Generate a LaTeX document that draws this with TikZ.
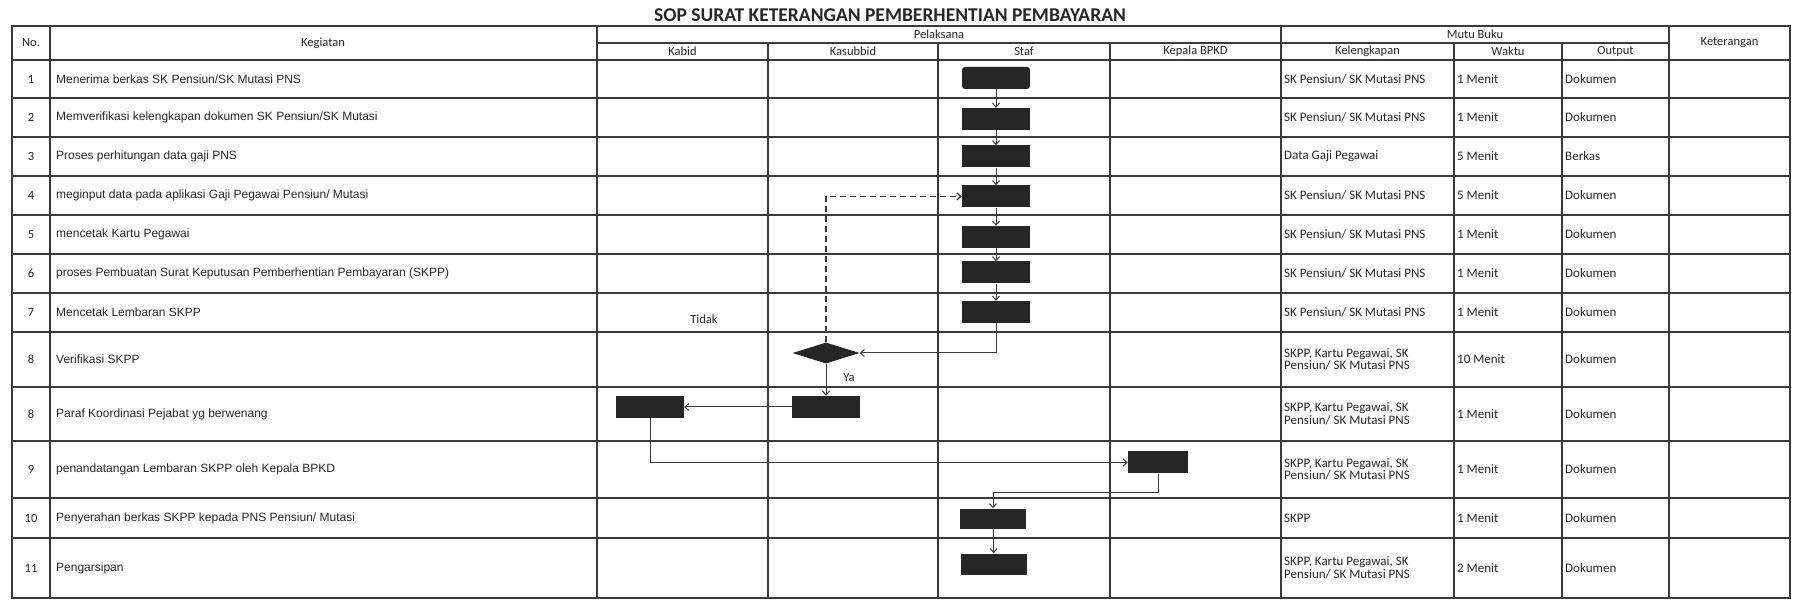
\documentclass[tikz,border=0pt]{standalone}
\usepackage{fontspec}
\setmainfont{Carlito}
\newfontfamily\arialfont{Liberation Sans}
\usetikzlibrary{shapes.geometric,arrows.meta}
\definecolor{ink}{HTML}{262626}
\definecolor{rulegray}{HTML}{3A3A3A}
\begin{document}
\begin{tikzpicture}[x=1pt,y=-1pt,
    tablerule/.style={draw=rulegray,line width=1.1pt,line cap=rect},
    actbox/.style={rectangle,fill=ink,minimum width=68pt,minimum height=22pt,inner sep=0pt},
    startbox/.style={actbox,rounded corners=3pt},
    checkbox/.style={diamond,fill=ink,minimum width=67pt,minimum height=21pt,inner sep=0pt},
    headtext/.style={font=\fontsize{12.5}{12.5}\selectfont,text=ink,inner sep=0pt},
    kegtext/.style={anchor=west,font=\arialfont\fontsize{12}{12}\selectfont,text=ink,inner sep=0pt},
    mututext/.style={anchor=west,align=left,font=\fontsize{13}{12.5}\selectfont,text=ink,inner sep=0pt},
    flow/.style={draw=rulegray,line width=1pt,-{Straight Barb[length=4pt,width=7pt]}}]
      \useasboundingbox (0,0) rectangle (1800,601);
      \draw[tablerule] (12,26) -- (1790,26) (597,43) -- (1669,43) (12,60) -- (1790,60)
        (12,98) -- (1790,98) (12,137) -- (1790,137) (12,176) -- (1790,176)
        (12,215) -- (1790,215) (12,254) -- (1790,254) (12,293) -- (1790,293)
        (12,332) -- (1790,332) (12,387) -- (1790,387) (12,441) -- (1790,441)
        (12,498) -- (1790,498) (12,538) -- (1790,538) (12,598) -- (1790,598);
      \draw[tablerule] (12,26) -- (12,598) (50,26) -- (50,598) (597,26) -- (597,598)
        (768,43) -- (768,598) (938,43) -- (938,598) (1110,43) -- (1110,598)
        (1281,26) -- (1281,598) (1454,43) -- (1454,598) (1562,43) -- (1562,598)
        (1669,26) -- (1669,598) (1790,26) -- (1790,598);
      \path
        (890,15) node[font=\bfseries\fontsize{19.5}{19.5}\selectfont,text=ink] (title) {SOP SURAT KETERANGAN PEMBERHENTIAN PEMBAYARAN}
        (31,43) node[headtext] (hno) {No.}
        (323,43) node[headtext] (hkeg) {Kegiatan}
        (939,34.5) node[headtext] (hpel) {Pelaksana}
        (682.5,51.5) node[headtext] (hkabid) {Kabid}
        (853,51.5) node[headtext] (hkasub) {Kasubbid}
        (1024,51.5) node[headtext] (hstaf) {Staf}
        (1195.5,51.5) node[headtext] (hkepala) {Kepala BPKD}
        (1475,34.5) node[headtext] (hmutu) {Mutu Buku}
        (1367.5,51.5) node[headtext] (hkel) {Kelengkapan}
        (1508,51.5) node[headtext] (hwaktu) {Waktu}
        (1615.5,51.5) node[headtext] (hout) {Output}
        (1729.5,43) node[headtext] (hket) {Keterangan};
      \path
        (31,79) node[headtext] (n1) {1}
        (31,117.5) node[headtext] (n2) {2}
        (31,156.5) node[headtext] (n3) {3}
        (31,195.5) node[headtext] (n4) {4}
        (31,234.5) node[headtext] (n5) {5}
        (31,273.5) node[headtext] (n6) {6}
        (31,312.5) node[headtext] (n7) {7}
        (31,359.5) node[headtext] (n8) {8}
        (31,414) node[headtext] (n8b) {8}
        (31,469.5) node[headtext] (n9) {9}
        (31,518) node[headtext] (n10) {10}
        (31,568) node[headtext] (n11) {11};
      \path
        (56,79) node[kegtext] (a1) {Menerima berkas SK Pensiun/SK Mutasi PNS}
        (56,117.5) node[kegtext] (a2) {Memverifikasi kelengkapan dokumen SK Pensiun/SK Mutasi}
        (56,156.5) node[kegtext] (a3) {Proses perhitungan data gaji PNS}
        (56,195.5) node[kegtext] (a4) {meginput data pada aplikasi Gaji Pegawai Pensiun/ Mutasi}
        (56,234.5) node[kegtext] (a5) {mencetak Kartu Pegawai}
        (56,273.5) node[kegtext] (a6) {proses Pembuatan Surat Keputusan Pemberhentian Pembayaran (SKPP)}
        (56,312.5) node[kegtext] (a7) {Mencetak Lembaran SKPP}
        (56,359.5) node[kegtext] (a8) {Verifikasi SKPP}
        (56,414) node[kegtext] (a8b) {Paraf Koordinasi Pejabat yg berwenang}
        (56,469.5) node[kegtext] (a9) {penandatangan Lembaran SKPP oleh Kepala BPKD}
        (56,518) node[kegtext] (a10) {Penyerahan berkas SKPP kepada PNS Pensiun/ Mutasi}
        (56,568) node[kegtext] (a11) {Pengarsipan};
      \path
        (1284,79) node[mututext] (l1) {SK Pensiun/ SK Mutasi PNS}
        (1284,117.5) node[mututext] (l2) {SK Pensiun/ SK Mutasi PNS}
        (1284,156.5) node[mututext] (l3) {Data Gaji Pegawai}
        (1284,195.5) node[mututext] (l4) {SK Pensiun/ SK Mutasi PNS}
        (1284,234.5) node[mututext] (l5) {SK Pensiun/ SK Mutasi PNS}
        (1284,273.5) node[mututext] (l6) {SK Pensiun/ SK Mutasi PNS}
        (1284,312.5) node[mututext] (l7) {SK Pensiun/ SK Mutasi PNS}
        (1284,359.5) node[mututext] (l8) {SKPP, Kartu Pegawai, SK\\Pensiun/ SK Mutasi PNS}
        (1284,414) node[mututext] (l8b) {SKPP, Kartu Pegawai, SK\\Pensiun/ SK Mutasi PNS}
        (1284,469.5) node[mututext] (l9) {SKPP, Kartu Pegawai, SK\\Pensiun/ SK Mutasi PNS}
        (1284,518) node[mututext] (l10) {SKPP}
        (1284,568) node[mututext] (l11) {SKPP, Kartu Pegawai, SK\\Pensiun/ SK Mutasi PNS};
      \path
        (1457,79) node[mututext] (w1) {1 Menit}
        (1457,117.5) node[mututext] (w2) {1 Menit}
        (1457,156.5) node[mututext] (w3) {5 Menit}
        (1457,195.5) node[mututext] (w4) {5 Menit}
        (1457,234.5) node[mututext] (w5) {1 Menit}
        (1457,273.5) node[mututext] (w6) {1 Menit}
        (1457,312.5) node[mututext] (w7) {1 Menit}
        (1457,359.5) node[mututext] (w8) {10 Menit}
        (1457,414) node[mututext] (w8b) {1 Menit}
        (1457,469.5) node[mututext] (w9) {1 Menit}
        (1457,518) node[mututext] (w10) {1 Menit}
        (1457,568) node[mututext] (w11) {2 Menit};
      \path
        (1565,79) node[mututext] (o1) {Dokumen}
        (1565,117.5) node[mututext] (o2) {Dokumen}
        (1565,156.5) node[mututext] (o3) {Berkas}
        (1565,195.5) node[mututext] (o4) {Dokumen}
        (1565,234.5) node[mututext] (o5) {Dokumen}
        (1565,273.5) node[mututext] (o6) {Dokumen}
        (1565,312.5) node[mututext] (o7) {Dokumen}
        (1565,359.5) node[mututext] (o8) {Dokumen}
        (1565,414) node[mututext] (o8b) {Dokumen}
        (1565,469.5) node[mututext] (o9) {Dokumen}
        (1565,518) node[mututext] (o10) {Dokumen}
        (1565,568) node[mututext] (o11) {Dokumen};
      \path
        (996,78) node[startbox] (s1) {}
        (996,119) node[actbox] (s2) {}
        (996,156.5) node[actbox] (s3) {}
        (996,196.5) node[actbox] (s4) {}
        (996,237) node[actbox] (s5) {}
        (996,272.5) node[actbox] (s6) {}
        (996,312) node[actbox] (s7) {}
        (826,353) node[checkbox] (v) {}
        (826,407) node[actbox] (ks) {}
        (650,407) node[actbox] (kb) {}
        (1158,462.5) node[actbox,minimum width=60pt] (kp) {}
        (993,518.5) node[actbox,minimum width=66pt,minimum height=20pt] (s10) {}
        (994,564) node[actbox,minimum width=66pt,minimum height=21pt] (s11) {}
        (704,319) node[headtext] (tidak) {Tidak}
        (849,378) node[headtext] (ya) {Ya};
      \begin{scope}[flow]
        \draw (s1) to (s2);
        \draw (s2) to (s3);
        \draw (s3) to (s4);
        \draw (s4) to (s5);
        \draw (s5) to (s6);
        \draw (s6) to (s7);
        \draw (s7) |- (v);
        \draw[dashed,dash pattern=on 6pt off 4pt,line width=1.3pt] (v) |- (s4);
        \draw (v) to (ks);
        \draw (ks) to (kb);
        \draw (kb) |- (kp);
        \draw (kp.south) -- ++(0,19) -| (s10);
        \draw (s10) to (s11);
      \end{scope}
    \end{tikzpicture}
\end{document}
